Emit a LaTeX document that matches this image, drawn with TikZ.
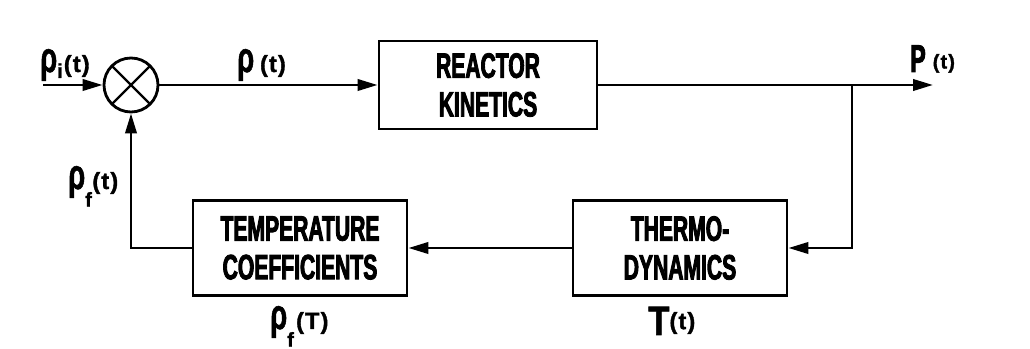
\documentclass[tikz,border=0pt]{standalone}
\usepackage{fontspec}
\newfontfamily\blockfont{Liberation Sans}[FakeStretch=0.6, BoldFeatures={FakeBold=2.5}]
\newfontfamily\labelfont{Liberation Sans}[BoldFeatures={FakeBold=1.5}]
\usetikzlibrary{arrows.meta,positioning}
\tikzset{
  block/.style={draw=black, line width=2.4pt, align=center, inner sep=0pt, font=\blockfont\bfseries\fontsize{30}{33}\selectfont},
  sumnode/.style={circle, draw=black, line width=2.4pt, minimum size=1.62cm, inner sep=0pt,
    path picture={\draw[line width=2pt] (path picture bounding box.north west) -- (path picture bounding box.south east)
      (path picture bounding box.north east) -- (path picture bounding box.south west);}},
  arrow/.style={-{Triangle[length=6mm,width=3.4mm]}, line width=2.4pt},
  lbl/.style={font=\labelfont\bfseries, inner sep=0pt, anchor=base west}
}
\newcommand{\rhoglyph}{{\fontsize{26}{26}\selectfont\scalebox{0.9}[1.4]{ρ}}}
\newcommand{\sigarg}[1]{{\fontsize{20}{20}\selectfont(\kern1pt#1\kern1pt)}}
\newcommand{\sigsub}[1]{{\fontsize{17}{17}\selectfont#1}}

\begin{document}
\begin{tikzpicture}[x=0.03cm, y=-0.03cm]
\useasboundingbox (0,0) rectangle (1030,349);
% junction and blocks
\node[sumnode] (sum) at (131,85) {};
\node[block, minimum width=6.54cm, minimum height=2.64cm] (reactor) at (488,85) {REACTOR\\KINETICS};
\node[block, minimum width=6.42cm, minimum height=2.85cm] (thermo) at (680,248) {THERMO-\\DYNAMICS};
\node[block, minimum width=6.42cm, minimum height=2.85cm] (tempco) at (300,248) {TEMPERATURE\\COEFFICIENTS};
\coordinate (in) at (43,85);
\coordinate (tap) at (852,85);
\coordinate (out) at (933,85);
% forward path
\draw[arrow] (in) -- (sum.west);
\draw[arrow] (sum.east) -- (reactor.west);
\draw[arrow] (reactor.east) -- (out);
% feedback path
\draw[arrow] (tap) |- (thermo.east);
\draw[arrow] (thermo.west) -- (tempco.east);
\draw[arrow] (tempco.west) -| (sum.south);
% signal labels
\node[lbl] (rhoi) at (40,72) {\rhoglyph\raisebox{-5pt}{\sigsub{i}}\kern1pt\sigarg{t}};
\node[lbl] (rho) at (237,72) {\rhoglyph\kern5pt\sigarg{t}};
\node[lbl] (pout) at (910,72) {{\blockfont\fontsize{33}{33}\selectfont P}\kern6pt\raisebox{3pt}{\fontsize{17}{17}\selectfont(\kern1pt t\kern1pt)}};
\node[lbl] (rhof) at (68,189) {\rhoglyph\raisebox{-15pt}{\sigsub{f}}\kern0.5pt\sigarg{t}};
\node[lbl] (rhofT) at (270,329) {\rhoglyph\raisebox{-15pt}{\sigsub{f}}\kern2pt\sigarg{T}};
\node[lbl] (temp) at (648,335) {{\fontsize{35}{35}\selectfont\scalebox{0.85}[1]{T}}\raisebox{5pt}{\sigarg{t}}};
\end{tikzpicture}
\end{document}
